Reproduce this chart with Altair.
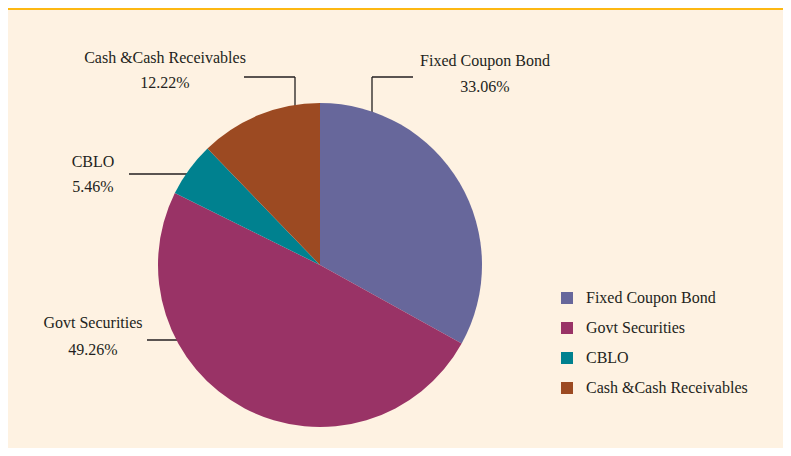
import altair as alt
import pandas as pd

# ---- data ----
categories = ["Fixed Coupon Bond", "Govt Securities", "CBLO", "Cash &Cash Receivables"]
values = [33.06, 49.26, 5.46, 12.22]
pct_labels = ["33.06%", "49.26%", "5.46%", "12.22%"]
colors = ["#67679B", "#993366", "#00818F", "#9C4A22"]

# label placement (pixels within chart)
label_x = [477, 85, 85, 157]
label_y1 = [53, 315, 154, 50]
label_y2 = [79, 342, 179, 75]

# leader line segments (pixels within chart)
seg_x1 = [364, 364, 236, 287, 121, 139]
seg_y1 = [69, 69, 69, 69, 166, 332]
seg_x2 = [405, 364, 287, 287, 190, 180]
seg_y2 = [69, 110, 69, 104, 166, 332]

W, H = 775, 440
CX, CY, R = 312, 257, 162
FONT = "Liberation Serif"
TXT = "#231F20"

df = pd.DataFrame({"category": categories, "value": values, "order": list(range(len(categories)))})
lab = pd.DataFrame({"name": categories, "pct": pct_labels, "x": label_x, "y1": label_y1, "y2": label_y2})
seg = pd.DataFrame({"x1": seg_x1, "y1": seg_y1, "x2": seg_x2, "y2": seg_y2})

band = alt.Chart(pd.DataFrame({"a": [0]})).mark_rect(color="#FDB813").encode(
    x=alt.value(0), x2=alt.value(W), y=alt.value(0), y2=alt.value(2)
)

lines = alt.Chart(seg).mark_rule(color=TXT, strokeWidth=1.3).encode(
    x=alt.X("x1:Q", scale=None, axis=None),
    y=alt.Y("y1:Q", scale=None, axis=None),
    x2="x2:Q",
    y2="y2:Q",
)

pie = alt.Chart(df).mark_arc(outerRadius=R).encode(
    theta=alt.Theta("value:Q", stack=True),
    color=alt.Color(
        "category:N",
        scale=alt.Scale(domain=categories, range=colors),
        sort=categories,
        legend=alt.Legend(
            title=None,
            orient="none",
            legendX=551,
            legendY=282,
            symbolType="square",
            symbolSize=144,
            symbolStrokeWidth=0,
            labelFont=FONT,
            labelFontSize=16,
            labelColor=TXT,
            labelOffset=11,
            labelLimit=0,
            rowPadding=14,
            padding=0,
        ),
    ),
    order=alt.Order("order:Q"),
    x=alt.value(CX),
    y=alt.value(CY),
)

t1 = alt.Chart(lab).mark_text(font=FONT, fontSize=16, color=TXT, align="center", baseline="middle").encode(
    x=alt.X("x:Q", scale=None, axis=None), y=alt.Y("y1:Q", scale=None, axis=None), text="name:N"
)
t2 = alt.Chart(lab).mark_text(font=FONT, fontSize=16, color=TXT, align="center", baseline="middle").encode(
    x=alt.X("x:Q", scale=None, axis=None), y=alt.Y("y2:Q", scale=None, axis=None), text="pct:N"
)

chart = alt.layer(band, lines, pie, t1, t2).properties(
    width=W, height=H, background="#FEF2E2", padding=0,
    autosize=alt.AutoSizeParams(type="fit", contains="padding"),
).configure_view(stroke=None)

chart.save("out.html", embed_options={"renderer": "svg", "actions": False})
